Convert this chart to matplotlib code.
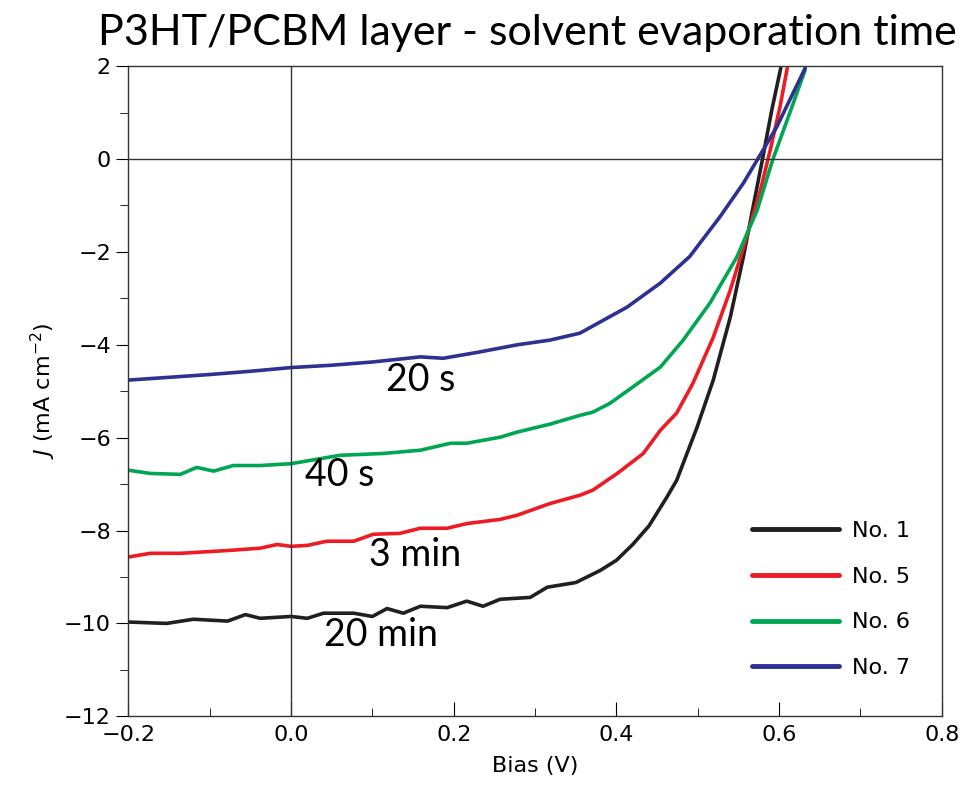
import matplotlib.pyplot as plt
from matplotlib.ticker import MultipleLocator

# J-V curves (bias in V, J in mA cm^-2)
bias_no1 = [-0.2, -0.153, -0.12, -0.078, -0.056, -0.038, 0.0, 0.02, 0.04, 0.077, 0.1, 0.118,
            0.138, 0.159, 0.192, 0.216, 0.236, 0.257, 0.294, 0.315, 0.35, 0.38, 0.40, 0.42,
            0.44, 0.462, 0.474, 0.499, 0.519, 0.54, 0.556, 0.568, 0.58, 0.591, 0.602]
j_no1 = [-9.97, -10.0, -9.91, -9.95, -9.81, -9.89, -9.85, -9.89, -9.78, -9.78, -9.85, -9.68,
         -9.78, -9.63, -9.66, -9.52, -9.63, -9.48, -9.44, -9.22, -9.12, -8.86, -8.64, -8.3,
         -7.9, -7.28, -6.92, -5.78, -4.76, -3.40, -2.11, -1.03, 0.04, 1.06, 1.96]

bias_no5 = [-0.2, -0.173, -0.136, -0.078, -0.038, -0.017, 0.0, 0.02, 0.044, 0.077, 0.101,
            0.134, 0.159, 0.192, 0.216, 0.257, 0.278, 0.318, 0.355, 0.371, 0.401, 0.433,
            0.454, 0.474, 0.494, 0.519, 0.54, 0.56, 0.577, 0.589, 0.601, 0.61]
j_no5 = [-8.57, -8.49, -8.49, -8.43, -8.38, -8.30, -8.34, -8.32, -8.23, -8.23, -8.08,
         -8.06, -7.95, -7.95, -7.85, -7.76, -7.67, -7.42, -7.24, -7.13, -6.77, -6.34,
         -5.84, -5.47, -4.83, -3.84, -2.82, -1.68, -0.67, 0.19, 1.12, 1.96]

bias_no6 = [-0.2, -0.173, -0.136, -0.116, -0.095, -0.071, -0.038, 0.0, 0.06, 0.113, 0.159,
            0.196, 0.216, 0.257, 0.278, 0.318, 0.355, 0.371, 0.392, 0.42, 0.454, 0.482,
            0.515, 0.548, 0.573, 0.592, 0.613, 0.632]
j_no6 = [-6.70, -6.77, -6.79, -6.64, -6.72, -6.60, -6.60, -6.56, -6.38, -6.34, -6.27,
         -6.12, -6.12, -5.99, -5.88, -5.71, -5.52, -5.45, -5.26, -4.91, -4.48, -3.90,
         -3.10, -2.11, -1.10, -0.02, 0.99, 1.92]

bias_no7 = [-0.2, -0.15, -0.1, -0.05, 0.0, 0.05, 0.1, 0.159, 0.187, 0.23, 0.278, 0.318,
            0.355, 0.413, 0.454, 0.49, 0.527, 0.556, 0.573, 0.597, 0.632]
j_no7 = [-4.76, -4.70, -4.64, -4.57, -4.49, -4.44, -4.37, -4.26, -4.29, -4.16, -4.0, -3.9,
         -3.75, -3.19, -2.67, -2.1, -1.25, -0.52, -0.02, 0.69, 1.96]

labels = ['No. 1', 'No. 5', 'No. 6', 'No. 7']
colors = ['#231f20', '#ed1c24', '#00a651', '#2e3192']
times = ['20 min', '3 min', '40 s', '20 s']
time_pos = [(0.11, -10.26), (0.153, -8.53), (0.06, -6.81), (0.159, -4.76)]

narrow = ['Liberation Sans Narrow', 'DejaVu Sans']
plt.rcParams['font.family'] = narrow

fig = plt.figure(figsize=(9.65, 7.88), dpi=100)
ax = fig.add_axes([0.133, 0.091, 0.843, 0.825])

series = [(bias_no1, j_no1), (bias_no5, j_no5), (bias_no6, j_no6), (bias_no7, j_no7)]
for (x, y), lab, c in zip(series, labels, colors):
    ax.plot(x, y, color=c, lw=2.6, label=lab, solid_capstyle='round')

ax.axhline(0, color='#333333', lw=1.0)
ax.axvline(0, color='#333333', lw=1.0)

for txt, (tx, ty) in zip(times, time_pos):
    ax.text(tx, ty, txt, fontsize=27, family=['Lato', 'DejaVu Sans'],
            ha='center', va='center')

ax.set_xlim(-0.2, 0.8)
ax.set_ylim(-12, 2)
ax.xaxis.set_major_locator(MultipleLocator(0.2))
ax.xaxis.set_minor_locator(MultipleLocator(0.1))
ax.yaxis.set_major_locator(MultipleLocator(2))
ax.yaxis.set_minor_locator(MultipleLocator(1))
ax.xaxis.set_major_formatter(lambda v, p: f'{v:.1f}'.replace('-', '\u2212'))
ax.tick_params(axis='x', which='both', direction='in', labelsize=16, pad=6)
ax.tick_params(axis='x', which='major', length=10)
ax.tick_params(axis='x', which='minor', length=6)
ax.tick_params(axis='y', which='both', direction='out', labelsize=16)
ax.tick_params(axis='y', which='major', length=9)
ax.tick_params(axis='y', which='minor', length=6)
for s in ax.spines.values():
    s.set_linewidth(1.0)
    s.set_color('#333333')

ax.set_xlabel('Bias (V)', fontsize=16, labelpad=8)
ax.set_ylabel(r'$J$ (mA cm$^{-2}$)', fontsize=16, labelpad=4)

leg = ax.legend(loc='upper left', bbox_to_anchor=(0.767, 0.30), frameon=False,
                fontsize=16, handlelength=3.9, labelspacing=1.15, handletextpad=0.6,
                borderpad=0, borderaxespad=0)
for h in leg.get_lines():
    h.set_linewidth(3.5)

fig.text(0.547, 0.958, 'P3HT/PCBM layer - solvent evaporation time', fontsize=31,
         family=['Lato', 'DejaVu Sans'], ha='center', va='center')

fig.savefig('out.png', dpi=100)
